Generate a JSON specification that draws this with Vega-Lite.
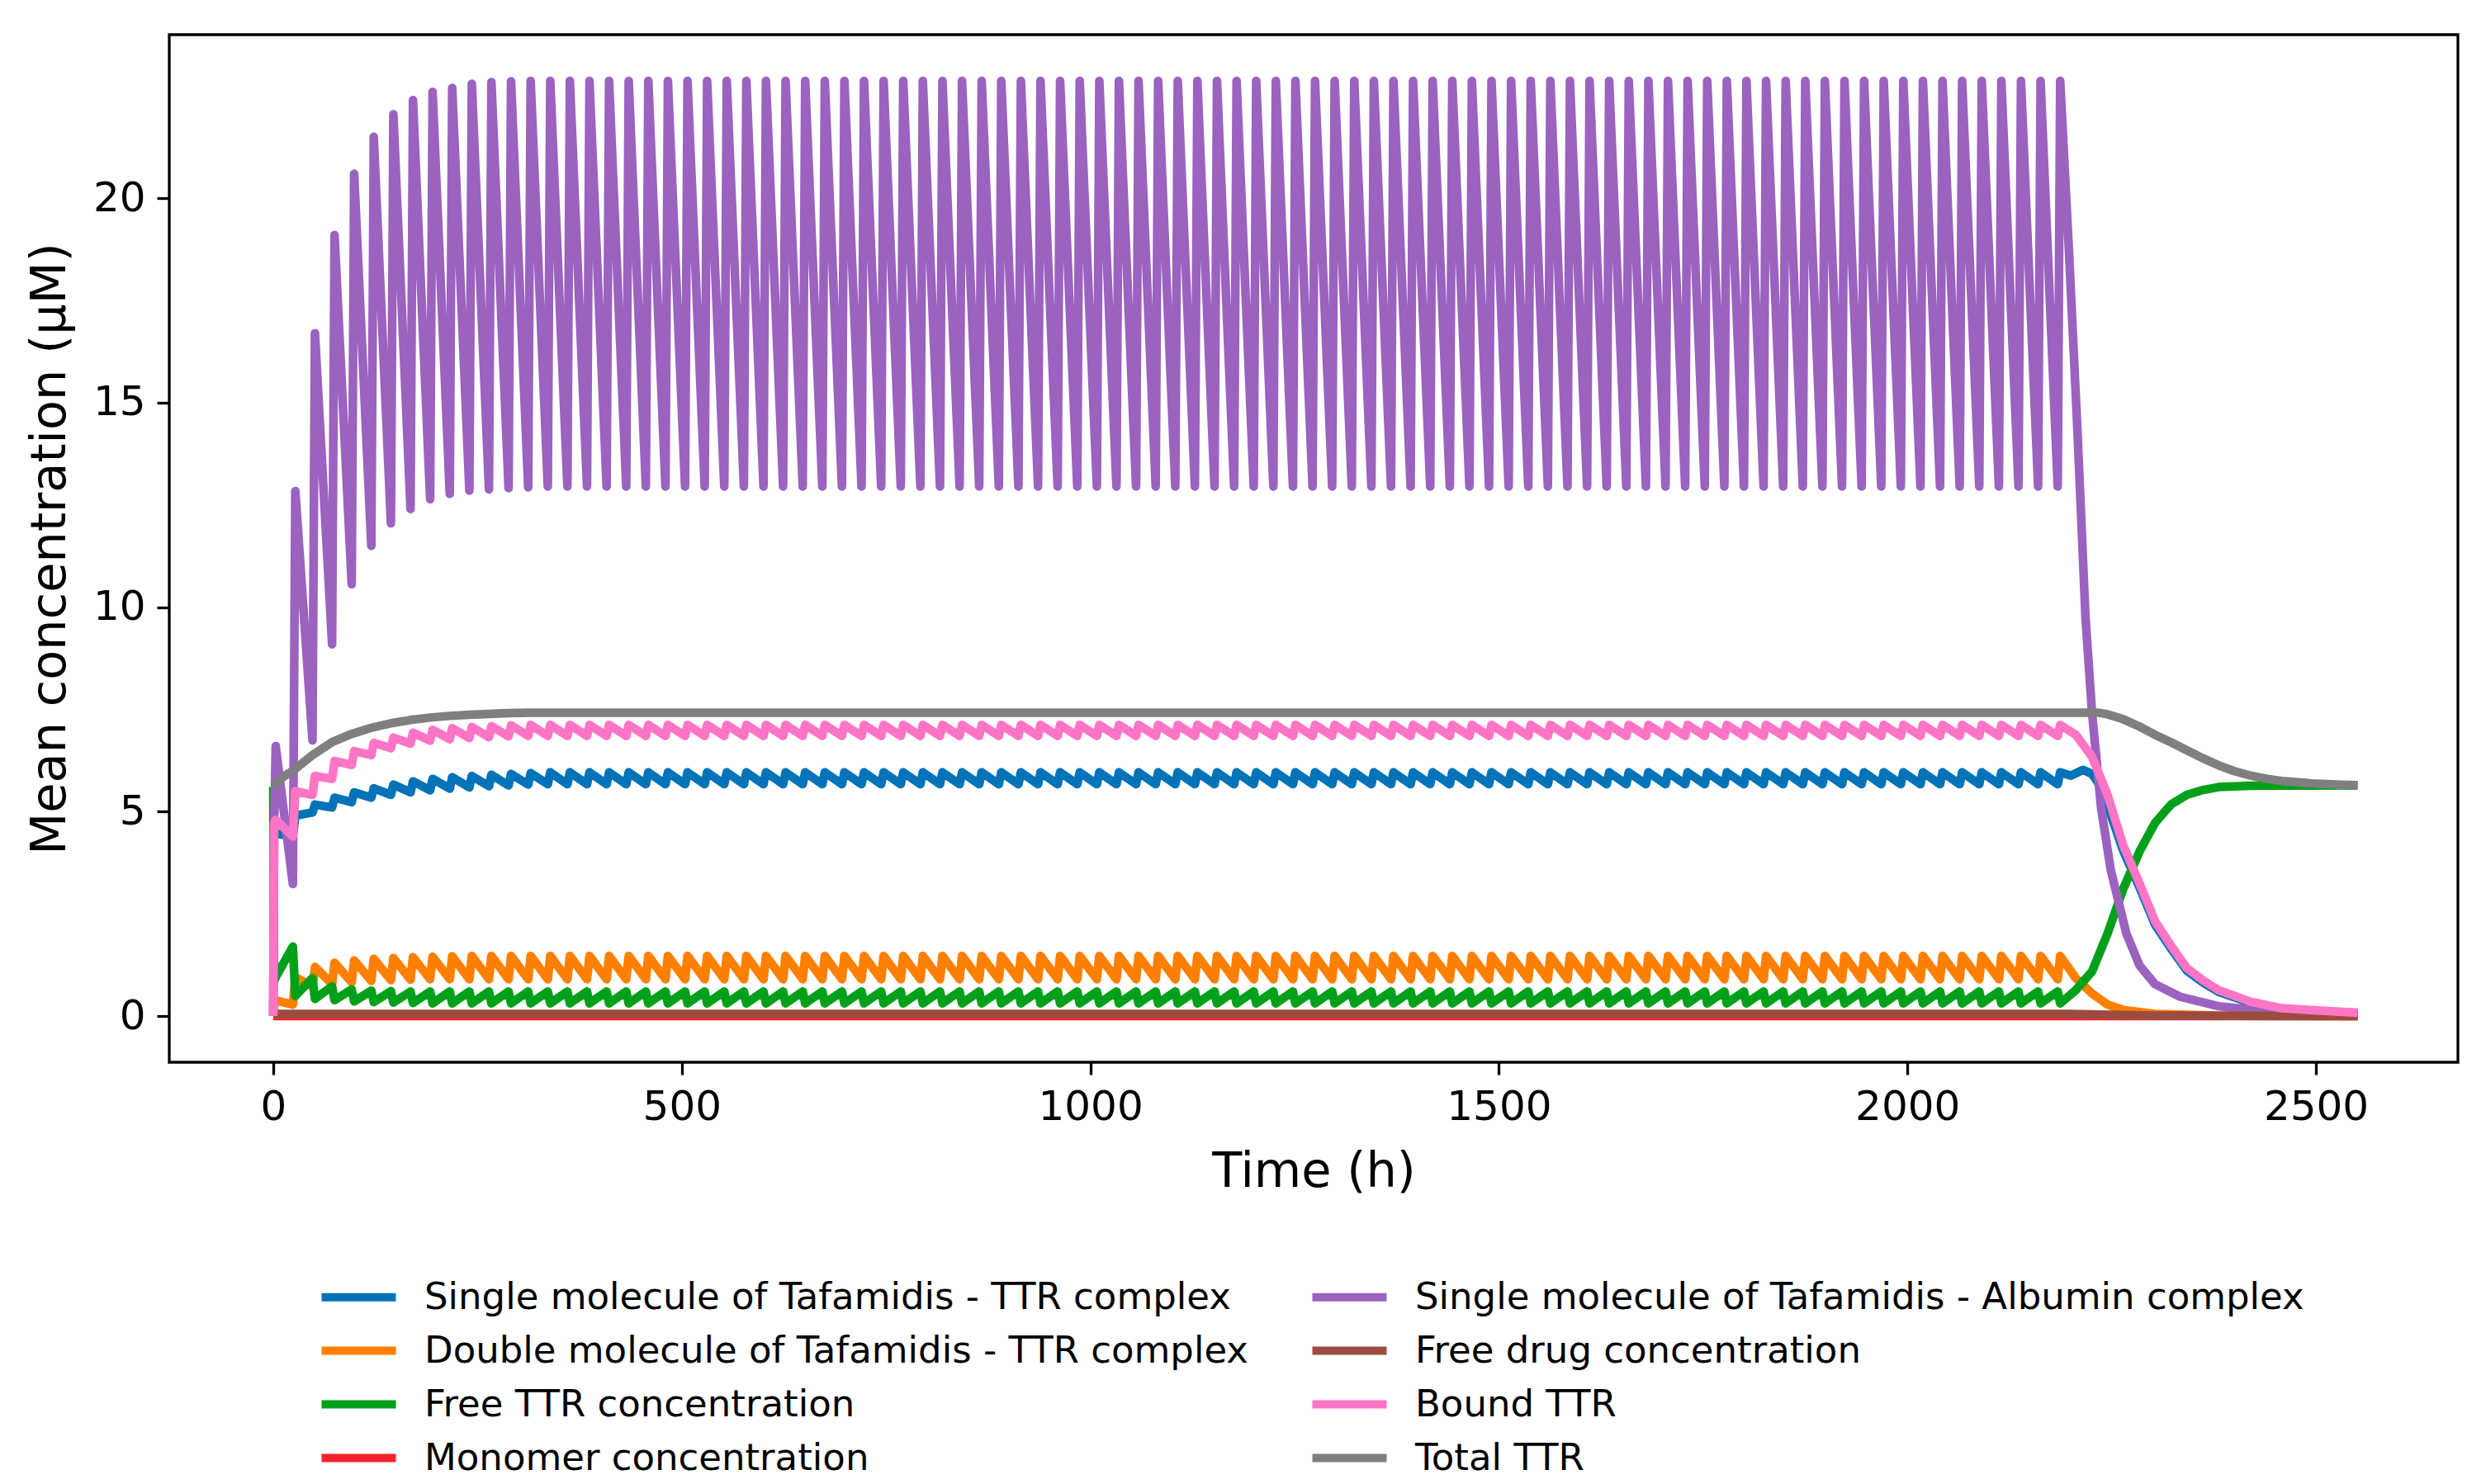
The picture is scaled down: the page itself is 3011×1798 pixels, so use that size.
{
  "$schema": "https://vega.github.io/schema/vega-lite/v6.json",
  "width": 2772,
  "height": 1245,
  "autosize": "none",
  "padding": {"left": 205, "top": 42, "right": 34, "bottom": 511},
  "background": "white",
  "config": {
    "font": "DejaVu Sans",
    "view": {"stroke": "black", "strokeWidth": 3.3},
    "axis": {
      "domain": false,
      "grid": false,
      "labelFont": "DejaVu Sans",
      "labelFontSize": 50,
      "labelColor": "black",
      "tickColor": "black",
      "tickWidth": 3.3,
      "tickSize": 15,
      "labelPadding": 14,
      "titleFont": "DejaVu Sans",
      "titleFontSize": 59,
      "titleFontWeight": "normal",
      "titleColor": "black"
    },
    "legend": {
      "labelFont": "DejaVu Sans",
      "labelFontSize": 45,
      "labelColor": "black",
      "padding": 0
    }
  },
  "data": {
    "values": [
      {"t": 0, "b": 0, "o": 0, "g": 5.6, "r": 0, "p": 0, "f": 0, "k": 0, "y": 5.6},
      {"t": 1, "b": 4.4, "o": 0.35, "g": 0.85, "p": 4.5, "f": 0.05, "k": 4.7},
      {"t": 3, "p": 6.6, "b": 4.46, "k": 4.8, "o": 0.38, "g": 0.95, "y": 5.66},
      {"t": 12, "y": 5.85},
      {"t": 24, "p": 3.23, "b": 4.4, "k": 4.39, "o": 0.28, "g": 1.7, "y": 6.0},
      {"t": 27, "p": 12.84, "b": 4.9, "k": 5.5, "o": 0.95, "g": 0.49},
      {"t": 48, "p": 6.74, "b": 4.98, "k": 5.41, "o": 0.72, "g": 0.93, "y": 6.38},
      {"t": 51, "p": 16.7, "b": 5.17, "k": 5.87, "o": 1.2, "g": 0.42},
      {"t": 72, "p": 9.09, "b": 5.1, "k": 5.8, "o": 0.78, "g": 0.73, "y": 6.7},
      {"t": 75, "p": 19.1, "b": 5.34, "k": 6.24, "o": 1.3, "g": 0.39},
      {"t": 96, "p": 10.56, "b": 5.23, "k": 6.14, "o": 0.83, "g": 0.65, "y": 6.9},
      {"t": 99, "p": 20.6, "b": 5.47, "k": 6.48, "o": 1.36, "g": 0.36},
      {"t": 120, "p": 11.5, "b": 5.34, "k": 6.38, "o": 0.86, "g": 0.62, "y": 7.05},
      {"t": 123, "p": 21.5, "b": 5.57, "k": 6.68, "o": 1.4, "g": 0.34},
      {"t": 144, "p": 12.05, "b": 5.41, "k": 6.55, "o": 0.88, "g": 0.61, "y": 7.16},
      {"t": 147, "p": 22.05, "b": 5.66, "k": 6.81, "o": 1.42, "g": 0.33},
      {"t": 168, "p": 12.4, "b": 5.47, "k": 6.66, "o": 0.89, "g": 0.6, "y": 7.24},
      {"t": 171, "p": 22.4, "b": 5.74, "k": 6.93, "o": 1.44, "g": 0.32},
      {"t": 192, "p": 12.64, "b": 5.52, "k": 6.73, "o": 0.9, "g": 0.6, "y": 7.3},
      {"t": 195, "p": 22.6, "b": 5.8, "k": 7.0, "o": 1.45, "g": 0.31},
      {"t": 216, "p": 12.77, "b": 5.56, "k": 6.77, "o": 0.9, "g": 0.6, "y": 7.34},
      {"t": 219, "p": 22.7, "b": 5.84, "k": 7.04, "o": 1.46, "g": 0.31},
      {"t": 240, "p": 12.85, "b": 5.59, "k": 6.8, "o": 0.9, "g": 0.6, "y": 7.37},
      {"t": 243, "p": 22.8, "b": 5.87, "k": 7.07, "o": 1.47, "g": 0.31},
      {"t": 264, "p": 12.88, "b": 5.62, "k": 6.82, "o": 0.9, "g": 0.6, "y": 7.39},
      {"t": 267, "p": 22.84, "b": 5.9, "k": 7.09, "o": 1.47, "g": 0.31},
      {"t": 288, "p": 12.91, "b": 5.64, "k": 6.84, "o": 0.9, "g": 0.6, "y": 7.41},
      {"t": 291, "p": 22.86, "b": 5.92, "k": 7.11, "o": 1.47, "g": 0.31},
      {"t": 312, "p": 12.93, "b": 5.66, "k": 6.85, "o": 0.9, "g": 0.6, "y": 7.42},
      {"t": 315, "p": 22.87, "b": 5.94, "k": 7.12, "o": 1.47, "g": 0.31},
      {"t": 336, "p": 12.95, "b": 5.67, "k": 6.85, "o": 0.9, "g": 0.6},
      {"t": 339, "p": 22.87, "b": 5.96, "k": 7.12, "o": 1.47, "g": 0.31},
      {"t": 360, "p": 12.95, "b": 5.67, "k": 6.85, "o": 0.9, "g": 0.6},
      {"t": 363, "p": 22.87, "b": 5.96, "k": 7.12, "o": 1.47, "g": 0.31},
      {"t": 384, "p": 12.95, "b": 5.67, "k": 6.85, "o": 0.9, "g": 0.6},
      {"t": 387, "p": 22.87, "b": 5.96, "k": 7.12, "o": 1.47, "g": 0.31},
      {"t": 408, "p": 12.95, "b": 5.67, "k": 6.85, "o": 0.9, "g": 0.6},
      {"t": 411, "p": 22.87, "b": 5.96, "k": 7.12, "o": 1.47, "g": 0.31},
      {"t": 432, "p": 12.95, "b": 5.67, "k": 6.85, "o": 0.9, "g": 0.6},
      {"t": 435, "p": 22.87, "b": 5.96, "k": 7.12, "o": 1.47, "g": 0.31},
      {"t": 456, "p": 12.95, "b": 5.67, "k": 6.85, "o": 0.9, "g": 0.6},
      {"t": 459, "p": 22.87, "b": 5.96, "k": 7.12, "o": 1.47, "g": 0.31},
      {"t": 480, "p": 12.95, "b": 5.67, "k": 6.85, "o": 0.9, "g": 0.6},
      {"t": 483, "p": 22.87, "b": 5.96, "k": 7.12, "o": 1.47, "g": 0.31},
      {"t": 504, "p": 12.95, "b": 5.67, "k": 6.85, "o": 0.9, "g": 0.6},
      {"t": 507, "p": 22.87, "b": 5.96, "k": 7.12, "o": 1.47, "g": 0.31},
      {"t": 528, "p": 12.95, "b": 5.67, "k": 6.85, "o": 0.9, "g": 0.6},
      {"t": 531, "p": 22.87, "b": 5.96, "k": 7.12, "o": 1.47, "g": 0.31},
      {"t": 552, "p": 12.95, "b": 5.67, "k": 6.85, "o": 0.9, "g": 0.6},
      {"t": 555, "p": 22.87, "b": 5.96, "k": 7.12, "o": 1.47, "g": 0.31},
      {"t": 576, "p": 12.95, "b": 5.67, "k": 6.85, "o": 0.9, "g": 0.6},
      {"t": 579, "p": 22.87, "b": 5.96, "k": 7.12, "o": 1.47, "g": 0.31},
      {"t": 600, "p": 12.95, "b": 5.67, "k": 6.85, "o": 0.9, "g": 0.6},
      {"t": 603, "p": 22.87, "b": 5.96, "k": 7.12, "o": 1.47, "g": 0.31},
      {"t": 624, "p": 12.95, "b": 5.67, "k": 6.85, "o": 0.9, "g": 0.6},
      {"t": 627, "p": 22.87, "b": 5.96, "k": 7.12, "o": 1.47, "g": 0.31},
      {"t": 648, "p": 12.95, "b": 5.67, "k": 6.85, "o": 0.9, "g": 0.6},
      {"t": 651, "p": 22.87, "b": 5.96, "k": 7.12, "o": 1.47, "g": 0.31},
      {"t": 672, "p": 12.95, "b": 5.67, "k": 6.85, "o": 0.9, "g": 0.6},
      {"t": 675, "p": 22.87, "b": 5.96, "k": 7.12, "o": 1.47, "g": 0.31},
      {"t": 696, "p": 12.95, "b": 5.67, "k": 6.85, "o": 0.9, "g": 0.6},
      {"t": 699, "p": 22.87, "b": 5.96, "k": 7.12, "o": 1.47, "g": 0.31},
      {"t": 720, "p": 12.95, "b": 5.67, "k": 6.85, "o": 0.9, "g": 0.6},
      {"t": 723, "p": 22.87, "b": 5.96, "k": 7.12, "o": 1.47, "g": 0.31},
      {"t": 744, "p": 12.95, "b": 5.67, "k": 6.85, "o": 0.9, "g": 0.6},
      {"t": 747, "p": 22.87, "b": 5.96, "k": 7.12, "o": 1.47, "g": 0.31},
      {"t": 768, "p": 12.95, "b": 5.67, "k": 6.85, "o": 0.9, "g": 0.6},
      {"t": 771, "p": 22.87, "b": 5.96, "k": 7.12, "o": 1.47, "g": 0.31},
      {"t": 792, "p": 12.95, "b": 5.67, "k": 6.85, "o": 0.9, "g": 0.6},
      {"t": 795, "p": 22.87, "b": 5.96, "k": 7.12, "o": 1.47, "g": 0.31},
      {"t": 816, "p": 12.95, "b": 5.67, "k": 6.85, "o": 0.9, "g": 0.6},
      {"t": 819, "p": 22.87, "b": 5.96, "k": 7.12, "o": 1.47, "g": 0.31},
      {"t": 840, "p": 12.95, "b": 5.67, "k": 6.85, "o": 0.9, "g": 0.6},
      {"t": 843, "p": 22.87, "b": 5.96, "k": 7.12, "o": 1.47, "g": 0.31},
      {"t": 864, "p": 12.95, "b": 5.67, "k": 6.85, "o": 0.9, "g": 0.6},
      {"t": 867, "p": 22.87, "b": 5.96, "k": 7.12, "o": 1.47, "g": 0.31},
      {"t": 888, "p": 12.95, "b": 5.67, "k": 6.85, "o": 0.9, "g": 0.6},
      {"t": 891, "p": 22.87, "b": 5.96, "k": 7.12, "o": 1.47, "g": 0.31},
      {"t": 912, "p": 12.95, "b": 5.67, "k": 6.85, "o": 0.9, "g": 0.6},
      {"t": 915, "p": 22.87, "b": 5.96, "k": 7.12, "o": 1.47, "g": 0.31},
      {"t": 936, "p": 12.95, "b": 5.67, "k": 6.85, "o": 0.9, "g": 0.6},
      {"t": 939, "p": 22.87, "b": 5.96, "k": 7.12, "o": 1.47, "g": 0.31},
      {"t": 960, "p": 12.95, "b": 5.67, "k": 6.85, "o": 0.9, "g": 0.6},
      {"t": 963, "p": 22.87, "b": 5.96, "k": 7.12, "o": 1.47, "g": 0.31},
      {"t": 984, "p": 12.95, "b": 5.67, "k": 6.85, "o": 0.9, "g": 0.6},
      {"t": 987, "p": 22.87, "b": 5.96, "k": 7.12, "o": 1.47, "g": 0.31},
      {"t": 1008, "p": 12.95, "b": 5.67, "k": 6.85, "o": 0.9, "g": 0.6},
      {"t": 1011, "p": 22.87, "b": 5.96, "k": 7.12, "o": 1.47, "g": 0.31},
      {"t": 1032, "p": 12.95, "b": 5.67, "k": 6.85, "o": 0.9, "g": 0.6},
      {"t": 1035, "p": 22.87, "b": 5.96, "k": 7.12, "o": 1.47, "g": 0.31},
      {"t": 1056, "p": 12.95, "b": 5.67, "k": 6.85, "o": 0.9, "g": 0.6},
      {"t": 1059, "p": 22.87, "b": 5.96, "k": 7.12, "o": 1.47, "g": 0.31},
      {"t": 1080, "p": 12.95, "b": 5.67, "k": 6.85, "o": 0.9, "g": 0.6},
      {"t": 1083, "p": 22.87, "b": 5.96, "k": 7.12, "o": 1.47, "g": 0.31},
      {"t": 1104, "p": 12.95, "b": 5.67, "k": 6.85, "o": 0.9, "g": 0.6},
      {"t": 1107, "p": 22.87, "b": 5.96, "k": 7.12, "o": 1.47, "g": 0.31},
      {"t": 1128, "p": 12.95, "b": 5.67, "k": 6.85, "o": 0.9, "g": 0.6},
      {"t": 1131, "p": 22.87, "b": 5.96, "k": 7.12, "o": 1.47, "g": 0.31},
      {"t": 1152, "p": 12.95, "b": 5.67, "k": 6.85, "o": 0.9, "g": 0.6},
      {"t": 1155, "p": 22.87, "b": 5.96, "k": 7.12, "o": 1.47, "g": 0.31},
      {"t": 1176, "p": 12.95, "b": 5.67, "k": 6.85, "o": 0.9, "g": 0.6},
      {"t": 1179, "p": 22.87, "b": 5.96, "k": 7.12, "o": 1.47, "g": 0.31},
      {"t": 1200, "p": 12.95, "b": 5.67, "k": 6.85, "o": 0.9, "g": 0.6},
      {"t": 1203, "p": 22.87, "b": 5.96, "k": 7.12, "o": 1.47, "g": 0.31},
      {"t": 1224, "p": 12.95, "b": 5.67, "k": 6.85, "o": 0.9, "g": 0.6},
      {"t": 1227, "p": 22.87, "b": 5.96, "k": 7.12, "o": 1.47, "g": 0.31},
      {"t": 1248, "p": 12.95, "b": 5.67, "k": 6.85, "o": 0.9, "g": 0.6},
      {"t": 1251, "p": 22.87, "b": 5.96, "k": 7.12, "o": 1.47, "g": 0.31},
      {"t": 1272, "p": 12.95, "b": 5.67, "k": 6.85, "o": 0.9, "g": 0.6},
      {"t": 1275, "p": 22.87, "b": 5.96, "k": 7.12, "o": 1.47, "g": 0.31},
      {"t": 1296, "p": 12.95, "b": 5.67, "k": 6.85, "o": 0.9, "g": 0.6},
      {"t": 1299, "p": 22.87, "b": 5.96, "k": 7.12, "o": 1.47, "g": 0.31},
      {"t": 1320, "p": 12.95, "b": 5.67, "k": 6.85, "o": 0.9, "g": 0.6},
      {"t": 1323, "p": 22.87, "b": 5.96, "k": 7.12, "o": 1.47, "g": 0.31},
      {"t": 1344, "p": 12.95, "b": 5.67, "k": 6.85, "o": 0.9, "g": 0.6},
      {"t": 1347, "p": 22.87, "b": 5.96, "k": 7.12, "o": 1.47, "g": 0.31},
      {"t": 1368, "p": 12.95, "b": 5.67, "k": 6.85, "o": 0.9, "g": 0.6},
      {"t": 1371, "p": 22.87, "b": 5.96, "k": 7.12, "o": 1.47, "g": 0.31},
      {"t": 1392, "p": 12.95, "b": 5.67, "k": 6.85, "o": 0.9, "g": 0.6},
      {"t": 1395, "p": 22.87, "b": 5.96, "k": 7.12, "o": 1.47, "g": 0.31},
      {"t": 1416, "p": 12.95, "b": 5.67, "k": 6.85, "o": 0.9, "g": 0.6},
      {"t": 1419, "p": 22.87, "b": 5.96, "k": 7.12, "o": 1.47, "g": 0.31},
      {"t": 1440, "p": 12.95, "b": 5.67, "k": 6.85, "o": 0.9, "g": 0.6},
      {"t": 1443, "p": 22.87, "b": 5.96, "k": 7.12, "o": 1.47, "g": 0.31},
      {"t": 1464, "p": 12.95, "b": 5.67, "k": 6.85, "o": 0.9, "g": 0.6},
      {"t": 1467, "p": 22.87, "b": 5.96, "k": 7.12, "o": 1.47, "g": 0.31},
      {"t": 1488, "p": 12.95, "b": 5.67, "k": 6.85, "o": 0.9, "g": 0.6},
      {"t": 1491, "p": 22.87, "b": 5.96, "k": 7.12, "o": 1.47, "g": 0.31},
      {"t": 1512, "p": 12.95, "b": 5.67, "k": 6.85, "o": 0.9, "g": 0.6},
      {"t": 1515, "p": 22.87, "b": 5.96, "k": 7.12, "o": 1.47, "g": 0.31},
      {"t": 1536, "p": 12.95, "b": 5.67, "k": 6.85, "o": 0.9, "g": 0.6},
      {"t": 1539, "p": 22.87, "b": 5.96, "k": 7.12, "o": 1.47, "g": 0.31},
      {"t": 1560, "p": 12.95, "b": 5.67, "k": 6.85, "o": 0.9, "g": 0.6},
      {"t": 1563, "p": 22.87, "b": 5.96, "k": 7.12, "o": 1.47, "g": 0.31},
      {"t": 1584, "p": 12.95, "b": 5.67, "k": 6.85, "o": 0.9, "g": 0.6},
      {"t": 1587, "p": 22.87, "b": 5.96, "k": 7.12, "o": 1.47, "g": 0.31},
      {"t": 1608, "p": 12.95, "b": 5.67, "k": 6.85, "o": 0.9, "g": 0.6},
      {"t": 1611, "p": 22.87, "b": 5.96, "k": 7.12, "o": 1.47, "g": 0.31},
      {"t": 1632, "p": 12.95, "b": 5.67, "k": 6.85, "o": 0.9, "g": 0.6},
      {"t": 1635, "p": 22.87, "b": 5.96, "k": 7.12, "o": 1.47, "g": 0.31},
      {"t": 1656, "p": 12.95, "b": 5.67, "k": 6.85, "o": 0.9, "g": 0.6},
      {"t": 1659, "p": 22.87, "b": 5.96, "k": 7.12, "o": 1.47, "g": 0.31},
      {"t": 1680, "p": 12.95, "b": 5.67, "k": 6.85, "o": 0.9, "g": 0.6},
      {"t": 1683, "p": 22.87, "b": 5.96, "k": 7.12, "o": 1.47, "g": 0.31},
      {"t": 1704, "p": 12.95, "b": 5.67, "k": 6.85, "o": 0.9, "g": 0.6},
      {"t": 1707, "p": 22.87, "b": 5.96, "k": 7.12, "o": 1.47, "g": 0.31},
      {"t": 1728, "p": 12.95, "b": 5.67, "k": 6.85, "o": 0.9, "g": 0.6},
      {"t": 1731, "p": 22.87, "b": 5.96, "k": 7.12, "o": 1.47, "g": 0.31},
      {"t": 1752, "p": 12.95, "b": 5.67, "k": 6.85, "o": 0.9, "g": 0.6},
      {"t": 1755, "p": 22.87, "b": 5.96, "k": 7.12, "o": 1.47, "g": 0.31},
      {"t": 1776, "p": 12.95, "b": 5.67, "k": 6.85, "o": 0.9, "g": 0.6},
      {"t": 1779, "p": 22.87, "b": 5.96, "k": 7.12, "o": 1.47, "g": 0.31},
      {"t": 1800, "p": 12.95, "b": 5.67, "k": 6.85, "o": 0.9, "g": 0.6},
      {"t": 1803, "p": 22.87, "b": 5.96, "k": 7.12, "o": 1.47, "g": 0.31},
      {"t": 1824, "p": 12.95, "b": 5.67, "k": 6.85, "o": 0.9, "g": 0.6},
      {"t": 1827, "p": 22.87, "b": 5.96, "k": 7.12, "o": 1.47, "g": 0.31},
      {"t": 1848, "p": 12.95, "b": 5.67, "k": 6.85, "o": 0.9, "g": 0.6},
      {"t": 1851, "p": 22.87, "b": 5.96, "k": 7.12, "o": 1.47, "g": 0.31},
      {"t": 1872, "p": 12.95, "b": 5.67, "k": 6.85, "o": 0.9, "g": 0.6},
      {"t": 1875, "p": 22.87, "b": 5.96, "k": 7.12, "o": 1.47, "g": 0.31},
      {"t": 1896, "p": 12.95, "b": 5.67, "k": 6.85, "o": 0.9, "g": 0.6},
      {"t": 1899, "p": 22.87, "b": 5.96, "k": 7.12, "o": 1.47, "g": 0.31},
      {"t": 1920, "p": 12.95, "b": 5.67, "k": 6.85, "o": 0.9, "g": 0.6},
      {"t": 1923, "p": 22.87, "b": 5.96, "k": 7.12, "o": 1.47, "g": 0.31},
      {"t": 1944, "p": 12.95, "b": 5.67, "k": 6.85, "o": 0.9, "g": 0.6},
      {"t": 1947, "p": 22.87, "b": 5.96, "k": 7.12, "o": 1.47, "g": 0.31},
      {"t": 1968, "p": 12.95, "b": 5.67, "k": 6.85, "o": 0.9, "g": 0.6},
      {"t": 1971, "p": 22.87, "b": 5.96, "k": 7.12, "o": 1.47, "g": 0.31},
      {"t": 1992, "p": 12.95, "b": 5.67, "k": 6.85, "o": 0.9, "g": 0.6},
      {"t": 1995, "p": 22.87, "b": 5.96, "k": 7.12, "o": 1.47, "g": 0.31},
      {"t": 2016, "p": 12.95, "b": 5.67, "k": 6.85, "o": 0.9, "g": 0.6},
      {"t": 2019, "p": 22.87, "b": 5.96, "k": 7.12, "o": 1.47, "g": 0.31},
      {"t": 2040, "p": 12.95, "b": 5.67, "k": 6.85, "o": 0.9, "g": 0.6},
      {"t": 2043, "p": 22.87, "b": 5.96, "k": 7.12, "o": 1.47, "g": 0.31},
      {"t": 2064, "p": 12.95, "b": 5.67, "k": 6.85, "o": 0.9, "g": 0.6},
      {"t": 2067, "p": 22.87, "b": 5.96, "k": 7.12, "o": 1.47, "g": 0.31},
      {"t": 2088, "p": 12.95, "b": 5.67, "k": 6.85, "o": 0.9, "g": 0.6},
      {"t": 2091, "p": 22.87, "b": 5.96, "k": 7.12, "o": 1.47, "g": 0.31},
      {"t": 2112, "p": 12.95, "b": 5.67, "k": 6.85, "o": 0.9, "g": 0.6},
      {"t": 2115, "p": 22.87, "b": 5.96, "k": 7.12, "o": 1.47, "g": 0.31},
      {"t": 2136, "p": 12.95, "b": 5.67, "k": 6.85, "o": 0.9, "g": 0.6},
      {"t": 2139, "p": 22.87, "b": 5.96, "k": 7.12, "o": 1.47, "g": 0.31},
      {"t": 2160, "p": 12.95, "b": 5.67, "k": 6.85, "o": 0.9, "g": 0.6},
      {"t": 2163, "p": 22.87, "b": 5.96, "k": 7.12, "o": 1.47, "g": 0.31},
      {"t": 2184, "p": 12.95, "b": 5.67, "k": 6.85, "o": 0.9, "g": 0.6},
      {"t": 2187, "p": 22.87, "b": 5.96, "k": 7.12, "o": 1.47, "g": 0.31},
      {"t": 2198, "p": 18.6},
      {"t": 2200, "b": 5.88, "f": 0.05},
      {"t": 2206, "k": 6.88, "o": 0.93, "g": 0.63},
      {"t": 2208, "p": 14.37},
      {"t": 2215, "b": 6.02},
      {"t": 2218, "p": 9.74},
      {"t": 2226, "p": 7.42, "k": 6.34, "o": 0.55, "g": 1.09, "b": 5.92},
      {"t": 2233, "b": 5.72, "y": 7.42},
      {"t": 2237, "p": 5.1},
      {"t": 2245, "b": 5.15, "k": 5.41, "o": 0.28, "g": 2.02, "y": 7.38},
      {"t": 2249, "p": 3.56},
      {"t": 2250, "f": 0.03},
      {"t": 2264, "b": 4.05, "k": 4.18, "o": 0.15, "g": 3.1, "y": 7.26},
      {"t": 2268, "p": 2.02},
      {"t": 2284, "b": 3.15, "k": 3.25, "g": 4.02, "p": 1.24, "y": 7.08},
      {"t": 2303, "b": 2.24, "k": 2.32, "o": 0.05, "g": 4.72, "p": 0.78, "y": 6.88, "f": 0.01},
      {"t": 2323, "b": 1.64, "k": 1.71, "g": 5.18, "y": 6.69},
      {"t": 2334, "p": 0.47},
      {"t": 2342, "b": 1.11, "k": 1.17, "g": 5.41, "y": 6.5},
      {"t": 2362, "b": 0.82, "k": 0.87, "g": 5.53, "y": 6.3},
      {"t": 2381, "b": 0.59, "k": 0.63, "g": 5.6, "p": 0.24, "y": 6.13, "o": 0.01},
      {"t": 2400, "y": 5.99},
      {"t": 2420, "b": 0.32, "k": 0.35, "g": 5.63, "y": 5.88},
      {"t": 2440, "y": 5.8},
      {"t": 2458, "b": 0.17, "k": 0.19, "p": 0.08, "y": 5.75},
      {"t": 2500, "y": 5.68},
      {"t": 2551, "b": 0.07, "k": 0.08, "o": 0, "g": 5.64, "r": 0, "p": 0.03, "f": 0, "y": 5.64}
    ]
  },
  "transform": [
    {"fold": ["b", "o", "g", "r", "p", "f", "k", "y"], "as": ["series", "value"]},
    {"filter": "isValid(datum.value)"}
  ],
  "encoding": {
    "x": {
      "field": "t",
      "type": "quantitative",
      "scale": {"domain": [-127.3, 2673.8], "nice": false, "zero": false},
      "axis": {"values": [0, 500, 1000, 1500, 2000, 2500], "format": "d", "title": "Time (h)", "titlePadding": 24, "labelFlush": false}
    },
    "y": {
      "field": "value",
      "type": "quantitative",
      "scale": {"domain": [-1.13, 24.0], "nice": false, "zero": false},
      "axis": {"values": [0, 5, 10, 15, 20], "format": "d", "title": "Mean concentration (µM)", "titlePadding": 22, "labelFlush": false}
    },
    "color": {
      "field": "series",
      "type": "nominal",
      "scale": {
        "domain": ["b", "o", "g", "r", "p", "f", "k", "y"],
        "range": ["#0173b8", "#ff7f00", "#00a01a", "#f4222a", "#9b62c0", "#9c4c3f", "#ff75c6", "#7f7f7f"]
      },
      "legend": {
        "title": null,
        "orient": "none",
        "legendX": 202,
        "legendY": 1502,
        "columns": 2,
        "symbolType": "M-2,0H2",
        "symbolSize": 2025,
        "symbolStrokeWidth": 10,
        "labelOffset": 52,
        "rowPadding": 14,
        "columnPadding": 57,
        "labelLimit": 0,
        "labelExpr": "datum.label == 'b' ? 'Single molecule of Tafamidis - TTR complex' : datum.label == 'o' ? 'Double molecule of Tafamidis - TTR complex' : datum.label == 'g' ? 'Free TTR concentration' : datum.label == 'r' ? 'Monomer concentration' : datum.label == 'p' ? 'Single molecule of Tafamidis - Albumin complex' : datum.label == 'f' ? 'Free drug concentration' : datum.label == 'k' ? 'Bound TTR' : 'Total TTR'"
      }
    }
  },
  "layer": [
    {"transform": [{"filter": {"field": "series", "equal": "b"}}], "mark": {"type": "line", "strokeWidth": 10.5, "strokeJoin": "round"}},
    {"transform": [{"filter": {"field": "series", "equal": "o"}}], "mark": {"type": "line", "strokeWidth": 10.5, "strokeJoin": "round"}},
    {"transform": [{"filter": {"field": "series", "equal": "g"}}], "mark": {"type": "line", "strokeWidth": 10.5, "strokeJoin": "round"}},
    {"transform": [{"filter": {"field": "series", "equal": "r"}}], "mark": {"type": "line", "strokeWidth": 10.5, "strokeJoin": "round"}},
    {"transform": [{"filter": {"field": "series", "equal": "p"}}], "mark": {"type": "line", "strokeWidth": 10.5, "strokeJoin": "round"}},
    {"transform": [{"filter": {"field": "series", "equal": "f"}}], "mark": {"type": "line", "strokeWidth": 10.5, "strokeJoin": "round"}},
    {"transform": [{"filter": {"field": "series", "equal": "k"}}], "mark": {"type": "line", "strokeWidth": 10.5, "strokeJoin": "round"}},
    {"transform": [{"filter": {"field": "series", "equal": "y"}}], "mark": {"type": "line", "strokeWidth": 10.5, "strokeJoin": "round"}}
  ]
}
